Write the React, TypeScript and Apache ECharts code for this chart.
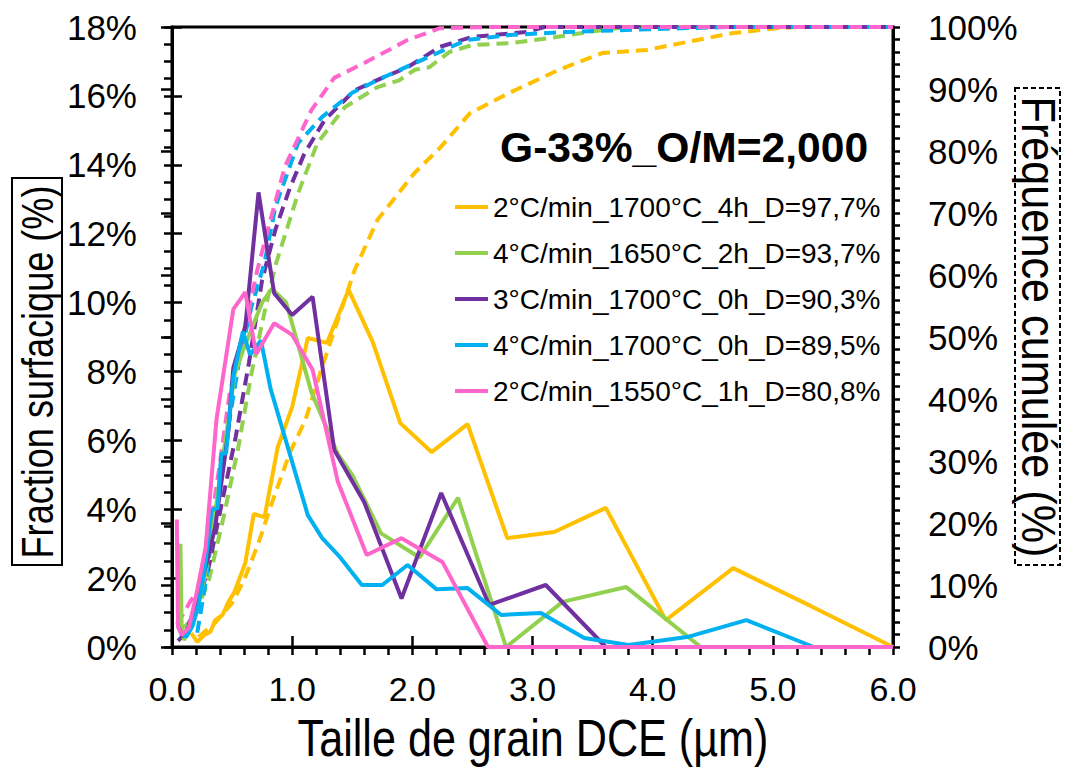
import React, { useEffect, useRef } from "react";
import * as echarts from "echarts";

// ---- Data ----
const xTickLabels = ["0.0", "1.0", "2.0", "3.0", "4.0", "5.0", "6.0"];
const leftTicks = ["0%", "2%", "4%", "6%", "8%", "10%", "12%", "14%", "16%", "18%"];
const rightTicks = ["0%", "10%", "20%", "30%", "40%", "50%", "60%", "70%", "80%", "90%", "100%"];

const seriesNames = [
  "2°C/min_1700°C_4h_D=97,7%",
  "4°C/min_1650°C_2h_D=93,7%",
  "3°C/min_1700°C_0h_D=90,3%",
  "4°C/min_1700°C_0h_D=89,5%",
  "2°C/min_1550°C_1h_D=80,8%",
];
const seriesColors = ["#FFC000", "#92D050", "#7030A0", "#00B0F0", "#FF66CC"];

// Fraction surfacique (%), [size µm, %]
const orangeFrac = [
  [0.16, 0.4], [0.21, 0.15], [0.27, 0.35], [0.32, 0.44], [0.36, 0.78], [0.42, 0.93], [0.47, 1.31],
  [0.52, 1.6], [0.61, 2.44], [0.68, 3.86], [0.77, 3.77], [0.88, 5.8], [1.0, 6.97], [1.13, 8.97],
  [1.29, 8.83], [1.47, 10.37], [1.67, 8.86], [1.9, 6.5], [2.16, 5.66], [2.46, 6.47], [2.79, 3.16],
  [3.18, 3.34], [3.61, 4.04], [4.11, 0.78], [4.67, 2.29], [5.31, 1.2], [6.0, 0],
];
const greenFrac = [
  [0.07, 3.0], [0.08, 0.6], [0.1, 0.2], [0.16, 0.7], [0.21, 1.2], [0.27, 2.0], [0.33, 3.2],
  [0.41, 5.2], [0.47, 6.6], [0.52, 7.9], [0.59, 8.6], [0.67, 9.3], [0.75, 10.0], [0.83, 10.4],
  [0.95, 10.0], [1.16, 7.4], [1.38, 5.6], [1.5, 5.0], [1.74, 3.3], [2.06, 2.6], [2.38, 4.33],
  [2.78, 0], [3.25, 1.31], [3.78, 1.74], [4.4, 0],
];
const purpleFrac = [
  [0.05, 0.6], [0.09, 0.3], [0.14, 0.6], [0.23, 1.65], [0.3, 2.6], [0.36, 3.5], [0.42, 5.0],
  [0.47, 6.3], [0.51, 8.1], [0.61, 9.3], [0.72, 13.2], [0.85, 10.27], [1.0, 9.64], [1.17, 10.17],
  [1.35, 5.72], [1.6, 4.2], [1.91, 1.41], [2.24, 4.47], [2.64, 1.22], [3.11, 1.8], [3.61, 0], [6.0, 0],
];
const blueFrac = [
  [0.07, 0.4], [0.12, 0.3], [0.17, 0.6], [0.22, 1.2], [0.27, 2.2], [0.33, 3.98], [0.38, 4.03],
  [0.41, 5.62], [0.45, 5.62], [0.51, 7.85], [0.59, 9.16], [0.65, 8.48], [0.74, 8.9], [0.82, 7.5],
  [1.13, 3.83], [1.25, 3.16], [1.4, 2.6], [1.58, 1.8], [1.75, 1.8], [1.96, 2.38], [2.2, 1.68],
  [2.46, 1.71], [2.74, 0.93], [3.07, 0.99], [3.43, 0.26], [3.8, 0.06], [4.3, 0.3], [4.78, 0.78],
  [5.34, 0], [6.0, 0],
];
const pinkFrac = [
  [0.04, 3.7], [0.05, 0.6], [0.08, 0.35], [0.14, 0.55], [0.21, 1.65], [0.28, 2.9], [0.37, 6.6],
  [0.51, 9.8], [0.61, 10.3], [0.7, 8.5], [0.85, 9.4], [1.0, 9.06], [1.17, 8.05], [1.38, 4.8],
  [1.62, 2.67], [1.91, 3.16], [2.25, 2.47], [2.63, 0], [6.0, 0],
];

// Fréquence cumulée (%), [size µm, %]
const orangeCum = [
  [0.22, 1.6], [0.36, 3.9], [0.5, 7.1], [0.6, 10.8], [0.72, 16.8], [0.84, 23.7], [0.98, 31.3],
  [1.11, 36.6], [1.25, 45.2], [1.52, 60.8], [1.71, 68.9], [2.02, 76.5], [2.23, 80.5], [2.48, 86.1],
  [2.81, 89.4], [3.22, 93.1], [3.58, 95.8], [3.95, 96.3], [4.24, 97.4], [4.66, 99.0], [5.03, 99.8],
  [5.2, 100], [6.0, 100],
];
const greenCum = [
  [0.07, 3.0], [0.12, 3.5], [0.2, 5.5], [0.31, 11], [0.43, 21], [0.55, 32], [0.66, 44], [0.77, 54],
  [0.86, 61.5], [1.05, 73.2], [1.21, 81.3], [1.44, 87.1], [1.71, 90.3], [1.89, 91.4], [2.02, 93.1],
  [2.14, 93.5], [2.31, 96], [2.5, 97.1], [2.81, 97.4], [3.14, 98.2], [3.47, 99.2], [3.7, 99.8],
  [3.8, 100], [6.0, 100],
];
const purpleCum = [
  [0.05, 1.0], [0.1, 2.0], [0.18, 5.4], [0.3, 12.4], [0.42, 23.7], [0.53, 33.9], [0.64, 45.8],
  [0.75, 59.2], [0.86, 67.3], [0.98, 74], [1.1, 79.5], [1.27, 85.0], [1.52, 89.8], [1.75, 91.8],
  [1.96, 93.5], [2.23, 96.8], [2.5, 98.4], [2.95, 99.2], [3.1, 100], [6.0, 100],
];
const blueCum = [
  [0.21, 2.3], [0.27, 9.2], [0.36, 21.6], [0.46, 34.5], [0.56, 46.3], [0.66, 54.8], [0.77, 62],
  [0.86, 71], [1.05, 81.3], [1.25, 85.5], [1.5, 89.4], [1.75, 91.8], [1.99, 93.9], [2.14, 95.2],
  [2.45, 97.9], [2.81, 98.7], [3.28, 99.2], [4.24, 99.8], [4.66, 100], [6.0, 100],
];
const pinkCum = [
  [0.04, 3.7], [0.1, 5.5], [0.15, 7.3], [0.22, 9.2], [0.3, 16.8], [0.39, 28.5], [0.48, 41],
  [0.6, 51.1], [0.71, 60.8], [0.8, 67.5], [0.94, 77.5], [1.16, 86.6], [1.35, 91.8], [1.6, 94.2],
  [1.96, 97.9], [2.23, 99.8], [2.63, 100], [6.0, 100],
];

const fracData = [orangeFrac, greenFrac, purpleFrac, blueFrac, pinkFrac];
const cumData = [orangeCum, greenCum, purpleCum, blueCum, pinkCum];

const chartTitle = "G-33%_O/M=2,000";
const xAxisTitle = "Taille de grain DCE (µm)";
const leftAxisTitle = "Fraction surfacique (%)";
const rightAxisTitle = "Fréquence cumulée (%)";

const SANS = "'Liberation Sans', Arial, sans-serif";

export default function App() {
  const ref = useRef<HTMLDivElement>(null);

  useEffect(() => {
    if (!ref.current) return;
    const chart = echarts.init(ref.current, undefined, { renderer: "svg" });
    const tickStyle = { color: "#000", width: 2.5 };

    const series: any[] = [];
    cumData.forEach((d, i) => {
      series.push({
        name: "Cumul " + seriesNames[i],
        type: "line",
        xAxisIndex: 0,
        yAxisIndex: 1,
        data: d,
        showSymbol: false,
        symbol: "none",
        lineStyle: { color: seriesColors[i], width: 4, type: [12, 7] },
        itemStyle: { color: seriesColors[i] },
        z: 3 + i,
      });
    });
    fracData.forEach((d, i) => {
      series.push({
        name: seriesNames[i],
        type: "line",
        xAxisIndex: 0,
        yAxisIndex: 0,
        data: d,
        showSymbol: false,
        symbol: "none",
        lineStyle: { color: seriesColors[i], width: 4, type: "solid" },
        itemStyle: { color: seriesColors[i] },
        z: 10 + i,
      });
    });

    const textStyle = (font: string, align: string) => ({
      font,
      fill: "#000",
      textAlign: align,
      align,
      textVerticalAlign: "middle",
      verticalAlign: "middle",
    });

    const option: any = {
      animation: false,
      backgroundColor: "#ffffff",
      grid: {
        left: 172,
        right: 175,
        top: 27,
        bottom: 120,
        show: true,
        borderColor: "#000",
        borderWidth: 3,
        backgroundColor: "transparent",
      },
      xAxis: [
        {
          type: "value",
          min: 0,
          max: 6,
          interval: 1,
          position: "bottom",
          axisLine: { show: true, onZero: false, lineStyle: { color: "#000", width: 3 } },
          axisTick: { show: true, inside: false, length: 8, lineStyle: tickStyle },
          minorTick: { show: true, splitNumber: 5, length: 8, lineStyle: tickStyle },
          splitLine: { show: false },
          minorSplitLine: { show: false },
          axisLabel: {
            formatter: (v: number) => xTickLabels[Math.round(v)] ?? "",
            fontFamily: SANS,
            fontSize: 34,
            color: "#000",
            margin: 25,
          },
        },
        {
          type: "value",
          min: 0,
          max: 6,
          interval: 1,
          position: "bottom",
          axisLine: { show: false },
          axisTick: { show: true, inside: true, length: 11, lineStyle: tickStyle },
          axisLabel: { show: false },
          splitLine: { show: false },
        },
      ],
      yAxis: [
        {
          type: "value",
          min: 0,
          max: 18,
          interval: 2,
          position: "left",
          axisLine: { show: true, onZero: false, lineStyle: { color: "#000", width: 3 } },
          axisTick: { show: true, inside: false, length: 8, lineStyle: tickStyle },
          minorTick: { show: true, splitNumber: 4, length: 8, lineStyle: tickStyle },
          splitLine: { show: false },
          axisLabel: {
            formatter: (v: number) => leftTicks[Math.round(v / 2)] ?? "",
            fontFamily: SANS,
            fontSize: 35,
            color: "#000",
            margin: 35,
          },
        },
        {
          type: "value",
          min: 0,
          max: 100,
          interval: 10,
          position: "right",
          axisLine: { show: true, onZero: false, lineStyle: { color: "#000", width: 3 } },
          axisTick: { show: true, inside: false, length: 7, lineStyle: tickStyle },
          minorTick: { show: true, splitNumber: 5, length: 7, lineStyle: tickStyle },
          splitLine: { show: false },
          axisLabel: {
            formatter: (v: number) => rightTicks[Math.round(v / 10)] ?? "",
            fontFamily: SANS,
            fontSize: 35,
            color: "#000",
            margin: 35,
          },
        },
        {
          type: "value",
          min: 0,
          max: 18,
          interval: 2,
          position: "left",
          axisLine: { show: false },
          axisTick: { show: true, inside: true, length: 10, lineStyle: tickStyle },
          axisLabel: { show: false },
          splitLine: { show: false },
        },
        {
          type: "value",
          min: 0,
          max: 100,
          interval: 10,
          position: "right",
          axisLine: { show: false },
          axisTick: { show: true, inside: true, length: 11, lineStyle: tickStyle },
          axisLabel: { show: false },
          splitLine: { show: false },
        },
      ],
      legend: {
        data: seriesNames,
        orient: "vertical",
        left: 455,
        top: 184,
        padding: 0,
        itemGap: 0,
        itemWidth: 33,
        itemHeight: 4,
        icon: "rect",
        textStyle: { fontSize: 28, fontFamily: SANS, color: "#000", lineHeight: 46 },
      },
      graphic: [
        {
          type: "text",
          x: 500,
          y: 147,
          z: 50,
          style: { text: chartTitle, ...textStyle(`bold 42.6px ${SANS}`, "left") },
        },
        {
          type: "text",
          x: 533,
          y: 738,
          scaleX: 0.83,
          style: { text: xAxisTitle, ...textStyle(`52px ${SANS}`, "center") },
        },
        {
          type: "rect",
          shape: { x: 12, y: 178, width: 50, height: 387 },
          style: { fill: "none", stroke: "#000", lineWidth: 2 },
        },
        {
          type: "text",
          x: 38,
          y: 372,
          rotation: Math.PI / 2,
          scaleX: 0.82,
          style: { text: leftAxisTitle, ...textStyle(`44px ${SANS}`, "center") },
        },
        {
          type: "rect",
          shape: { x: 1015, y: 88, width: 45, height: 477 },
          style: { fill: "none", stroke: "#000", lineWidth: 2, lineDash: [5, 3] },
        },
        {
          type: "text",
          x: 1038,
          y: 327,
          rotation: -Math.PI / 2,
          scaleX: 0.9,
          style: { text: rightAxisTitle, ...textStyle(`48px ${SANS}`, "center") },
        },
      ],
      series,
    };
    chart.setOption(option);
    return () => chart.dispose();
  }, []);

  return (
    <div
      ref={ref}
      style={{ position: "fixed", left: 0, top: 0, width: 1068, height: 767, background: "#fff" }}
    />
  );
}
